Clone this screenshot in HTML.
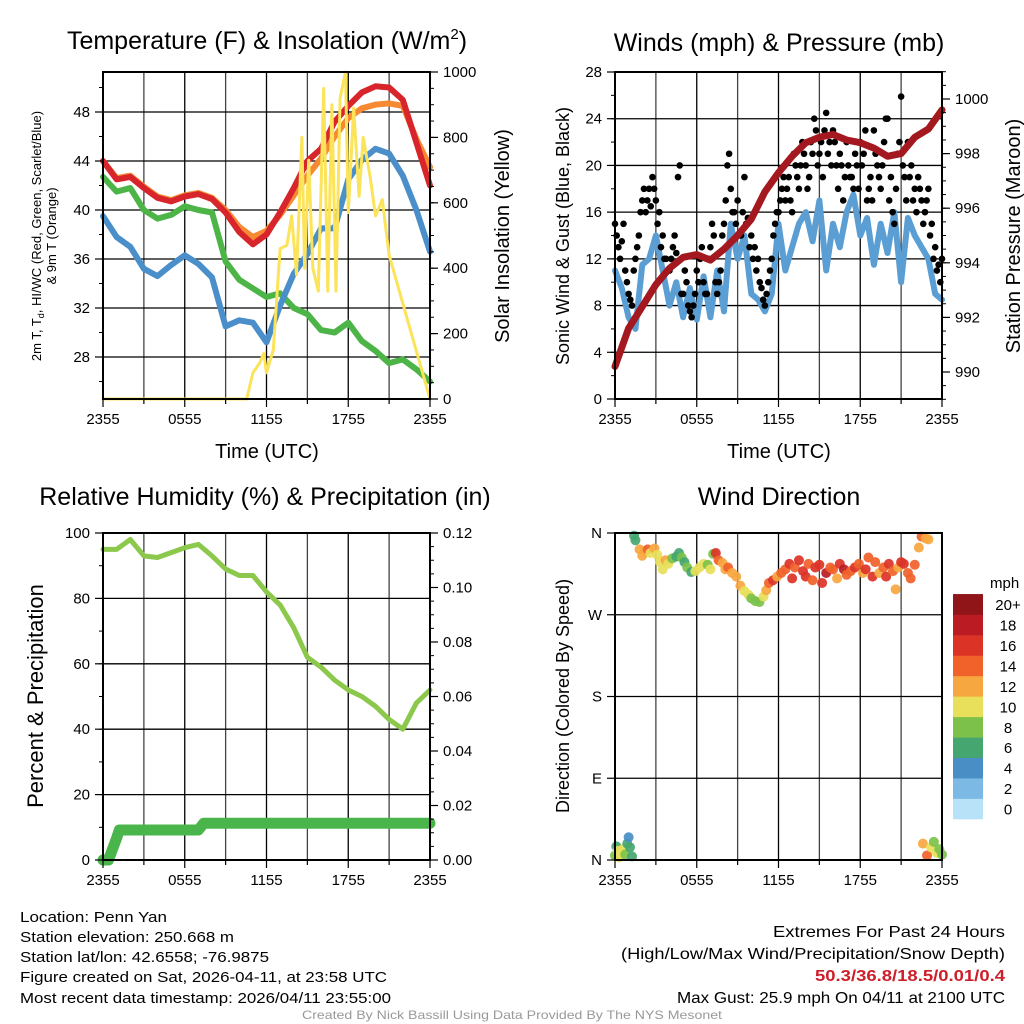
<!DOCTYPE html>
<html><head><meta charset="utf-8"><style>
html,body{margin:0;padding:0;background:#fff;}
svg{display:block;font-family:"Liberation Sans",sans-serif;}
</style></head><body>
<svg id="chart" width="1024" height="1024" viewBox="0 0 1024 1024" xmlns="http://www.w3.org/2000/svg">
<rect width="1024" height="1024" fill="#fff"/>
<g id="layer-grid"></g><g id="layer-data"></g><g id="layer-axes"></g>
<text x="267" y="49" font-size="25" text-anchor="middle">Temperature (F) &amp; Insolation (W/m<tspan font-size="15" dy="-10">2</tspan><tspan dy="10">)</tspan></text>
<text x="779" y="51" font-size="25" text-anchor="middle">Winds (mph) &amp; Pressure (mb)</text>
<text x="265" y="505" font-size="25" text-anchor="middle">Relative Humidity (%) &amp; Precipitation (in)</text>
<text x="779" y="505" font-size="25" text-anchor="middle">Wind Direction</text>
<text x="267" y="458" font-size="20" text-anchor="middle">Time (UTC)</text>
<text x="779" y="458" font-size="20" text-anchor="middle">Time (UTC)</text>
<text transform="translate(41,236) rotate(-90)" font-size="13" text-anchor="middle">2m T, T<tspan font-size="9" dy="3">d</tspan><tspan dy="-3">, HI/WC (Red, Green, Scarlet/Blue)</tspan></text>
<text transform="translate(56,236) rotate(-90)" font-size="13" text-anchor="middle">&amp; 9m T (Orange)</text>
<text transform="translate(509,236) rotate(-90)" font-size="20" text-anchor="middle">Solar Insolation (Yellow)</text>
<text transform="translate(569,236) rotate(-90)" font-size="18" text-anchor="middle">Sonic Wind &amp; Gust (Blue, Black)</text>
<text transform="translate(1020,236) rotate(-90)" font-size="20" text-anchor="middle">Station Pressure (Maroon)</text>
<text transform="translate(43,696) rotate(-90)" font-size="22" text-anchor="middle">Percent &amp; Precipitation</text>
<text transform="translate(569,696) rotate(-90)" font-size="18" text-anchor="middle">Direction (Colored By Speed)</text>
<text x="990" y="588" font-size="15">mph</text>
<g font-size="15">
<text x="20" y="922" textLength="147" lengthAdjust="spacingAndGlyphs">Location: Penn Yan</text>
<text x="20" y="942" textLength="214" lengthAdjust="spacingAndGlyphs">Station elevation: 250.668 m</text>
<text x="20" y="962" textLength="249" lengthAdjust="spacingAndGlyphs">Station lat/lon: 42.6558; -76.9875</text>
<text x="20" y="982" textLength="367" lengthAdjust="spacingAndGlyphs">Figure created on Sat, 2026-04-11, at 23:58 UTC</text>
<text x="20" y="1003" textLength="371" lengthAdjust="spacingAndGlyphs">Most recent data timestamp: 2026/04/11 23:55:00</text>
</g>
<g font-size="16" text-anchor="end">
<text x="1005" y="937" textLength="232" lengthAdjust="spacingAndGlyphs">Extremes For Past 24 Hours</text>
<text x="1005" y="959" textLength="384" lengthAdjust="spacingAndGlyphs">(High/Low/Max Wind/Precipitation/Snow Depth)</text>
<text x="1005" y="981" fill="#cc1f2a" font-weight="bold" textLength="190" lengthAdjust="spacingAndGlyphs">50.3/36.8/18.5/0.01/0.4</text>
<text x="1005" y="1003" textLength="328" lengthAdjust="spacingAndGlyphs">Max Gust: 25.9 mph On 04/11 at 2100 UTC</text>
</g>
<text x="512" y="1019" font-size="12" fill="#999" text-anchor="middle" textLength="420" lengthAdjust="spacingAndGlyphs">Created By Nick Bassill Using Data Provided By The NYS Mesonet</text>
</svg>
<script>
// ---------- data ----------
const hourTimes=[0,1,2,3,4,5,6,7,8,9,10,11,12,13,14,15,16,17,18,19,20,21,22,23,24];
const tempValues=[44,42.5,42.7,41.8,41,40.7,41.1,41.3,40.9,39.8,38.2,37.2,38.0,39.8,41.8,44.0,45.0,47.2,48.5,49.6,50.1,50.0,49.0,45.5,42.0];
const temp9mValues=[44,42.6,42.8,41.9,41.1,40.8,41.2,41.4,41.0,40.0,38.6,37.8,38.3,39.6,41.2,42.8,44.2,46.0,47.5,48.3,48.6,48.7,48.5,45.8,43.5];
const dewpointValues=[42.7,41.5,41.8,40,39.3,39.6,40.3,40.0,39.8,35.8,34.3,33.6,32.9,33.2,32.0,31.5,30.2,30.0,30.8,29.3,28.5,27.5,27.8,27.0,26.0];
const windChillValues=[39.5,37.8,37,35.2,34.6,35.5,36.3,35.6,34.5,30.5,31,30.8,29.2,32.2,34.8,36.4,38.5,38.5,42.5,44.1,45,44.6,42.8,40,36.6];
const solarTimes=[0,10.55,11.0,11.5,11.8,12.0,12.5,13.0,13.5,13.85,14.2,14.6,14.8,15.1,15.4,15.8,16.2,16.5,16.8,17.1,17.4,17.8,18.0,18.4,18.8,19.1,19.6,20.0,20.5,21.0,24];
const solarValues=[0,0,80,110,140,80,150,460,470,560,380,800,400,730,400,330,950,330,900,330,920,1000,570,890,620,800,680,560,610,440,0];
const pressureValues=[990.2,991.6,992.4,993.2,993.8,994.2,994.3,994.1,994.5,995.0,995.6,996.6,997.3,997.9,998.4,998.6,998.7,998.5,998.4,998.2,997.9,998.0,998.6,998.9,999.6];
const windTimes=[0,0.5,1,1.5,2,2.5,3,3.5,4,4.5,5,5.5,6,6.5,7,7.5,8,8.5,9,9.5,10,10.5,11,11.5,12,12.5,13,13.5,14,14.5,15,15.5,16,16.5,17,17.5,18,18.5,19,19.5,20,20.5,21,21.5,22,22.5,23,23.5,24];
const windValues=[11,9.5,7,6,11.5,12,14,11,8,10,7,9.5,6.8,10.5,7,11,7.5,15,12,14,9,8.5,7.5,9,15,11,13,15,16,13.5,17,11,15,13,16,17.5,14,15.5,11.5,15,12.5,16,10,15.5,14,13,12,9,8.5];
const gustValues=[15,13,13.5,11,9,8,12,14,17,16,18,19,17,16,14,12,11,13,12.5,20,9,10,7.5,8,11,12,10,9,13,14,9,11,15,20,18,16,17,14,19,15.5,14,13,12,9.5,8,10,12,15,16,18,17,19,16,20,18,22,20,19,21,23,21,19,24.5,22,23,20,21,17,22,19,18,20,22,21,17,19,23,20,18,22,24,19,15,21,25.9,19,22,20,18,19,17,16,18,15,13,11.5,12];
const gustValues2=[14,12,15,10,8.5,11,13,16,18,17,16.5,18,15,13,12,11,12,14,19,9,11,8,7,9,10,13,9,12,15,10,10,14,17,21,16,15,14,16,15,13,12,11,10,8.5,9,11,14,16,17,19,18,17,21,19,20,21,18,22,24,20,22,23,21,20,22,18,20,19,20,19,21,18,20,23,18,17,21,19,20,24,17,16,18,22,20,17,19,17,16,18,15,17,14,12,11,10];
const rhValues=[95,95,98,93,92.5,94,95.5,96.5,93,89,87,87,82,78,71,62,59,55,52,50,47,43,40,48,52];
const precipTimes=[0,0.4,0.7,1.0,1.2,7.0,7.4,24];
const precipValues=[0,0,0.004,0.008,0.011,0.011,0.0135,0.0135];
const dirTimes=[0,0.1,0.2,0.3,0.45,0.6,0.75,0.9,1.0,1.1,1.25,1.4,1.5,1.8,2.0,2.2,2.4,2.6,2.9,3.1,3.3,3.5,3.7,3.9,4.2,4.5,4.7,4.9,5.1,5.3,5.6,5.9,6.2,6.5,6.8,7.0,7.2,7.4,7.6,7.9,8.1,8.3,8.6,8.9,9.2,9.5,9.8,10.0,10.3,10.6,10.9,11.1,11.3,11.6,11.9,12.2,12.5,12.8,13.0,13.2,13.5,13.8,14.0,14.2,14.5,14.7,15.0,15.2,15.5,15.8,16.0,16.3,16.5,16.8,17.0,17.3,17.6,17.9,18.2,18.4,18.6,18.9,19.1,19.4,19.7,19.9,20.1,20.4,20.6,20.8,21.0,21.2,21.5,21.7,22.0,22.3,22.5,22.8,23.0,22.6,22.9,23.2,23.4,23.6,23.8,24];
const dirValues=[5,15,10,3,8,12,6,18,25,14,4,357,352,342,335,340,342,338,343,336,328,320,330,326,332,334,338,333,328,322,317,318,322,326,325,320,337,338,330,327,320,322,316,312,302,296,292,288,285,284,290,297,305,308,312,316,320,326,310,322,330,318,312,326,308,322,325,305,316,322,320,310,326,320,314,318,322,326,316,320,333,312,328,316,322,312,326,318,298,322,328,326,316,310,325,344,356,354,353,18,5,14,20,8,12,6];
const dirSpeeds=[9,6,10,10,10,10,9,6,4,6,6,6,7,12,12,13,14,11,12,10,10,11,12,10,9,7,6,8,7,8,6,10,10,10,8,10,8,16,15,13,12,14,13,12,12,10,10,8,8,8,10,12,15,16,13,14,15,16,17,15,17,16,16,15,14,17,16,16,18,15,14,13,17,18,15,14,17,15,13,16,14,16,15,12,14,16,17,14,13,12,16,17,14,15,14,12,14,13,12,12,14,10,8,10,8,8];
const speedColors=["#b8e2f8","#7cb9e4","#4a8ec6","#45a66f","#7cc24a","#e8e05a","#f7a740","#f0622a","#dc3327","#bb1c24","#8f1518"];
const speedLabels=["0","2","4","6","8","10","12","14","16","18","20+"];

// ---------- helpers ----------
const NS="http://www.w3.org/2000/svg";
const gGrid=document.getElementById('layer-grid'),gData=document.getElementById('layer-data'),gAxes=document.getElementById('layer-axes');
function mk(tag,parent,attrs){const e=document.createElementNS(NS,tag);for(const k in attrs)e.setAttribute(k,attrs[k]);parent.appendChild(e);return e;}
function lin(d0,d1,r0,r1){return v=>r0+(v-d0)/(d1-d0)*(r1-r0);}
const L1=103,R1=430,L2=615,R2=942,T1=72,B1=399,T2=533,B2=860;
const xA=lin(0,24,L1,R1), xB=lin(0,24,L2,R2);
const yTemp=lin(40,48,210,112), ySolar=lin(0,1000,399,72);
const yWind=lin(0,28,399,72), yPres=lin(990,1000,372,99);
const yRH=lin(0,100,860,533), yPrecip=lin(0,0.12,860,533);
const yDir=lin(0,360,860,533);
const xTickLabels=["2355","0555","1155","1755","2355"];

function frame(L,R,T,B,name){
  for(let h=3;h<24;h+=3){const x=L+(R-L)*h/24;
    const ln=mk('line',gGrid,{x1:x,x2:x,y1:T,y2:B,stroke:h%6==0?'#000':'#444','stroke-width':1.3});
    
    }
  const r=mk('rect',gAxes,{x:L,y:T,width:R-L,height:B-T,fill:'none',stroke:'#000','stroke-width':2});
  
  
  for(let h=0;h<=24;h+=3){const x=L+(R-L)*h/24;
    mk('line',gAxes,{x1:x,x2:x,y1:B,y2:B+(h%6==0?8:5),stroke:'#000','stroke-width':1.2});}
  xTickLabels.forEach((lb,i)=>{const t=mk('text',gAxes,{x:L+(R-L)*i/4,y:B+25,'font-size':15,'text-anchor':'middle'});t.textContent=lb;
    
    });
}
function yAxis(L,R,side,scale,vals,minors,fmt,name,grid){
  const x=side=='l'?L:R, d=side=='l'?-1:1;
  minors.forEach(v=>mk('line',gAxes,{x1:x,x2:x+d*4,y1:scale(v),y2:scale(v),stroke:'#000','stroke-width':1}));
  vals.forEach(v=>{const y=scale(v);
    mk('line',gAxes,{x1:x,x2:x+d*8,y1:y,y2:y,stroke:'#000','stroke-width':1.2});
    if(grid){const g=mk('line',gGrid,{x1:L,x2:R,y1:y,y2:y,stroke:'#000','stroke-width':1.3});
      
      }
    const t=mk('text',gAxes,{x:x+d*13,y:y+5,'font-size':15,'text-anchor':side=='l'?'end':'start'});t.textContent=fmt(v);
    
    });
}
function rng(a,b,s){const o=[];for(let v=a;v<=b+1e-9;v+=s)o.push(+v.toFixed(4));return o;}
function line(xs,ys,xf,yf,color,w,name){
  const d=xs.map((t,i)=>(i?'L':'M')+xf(t).toFixed(1)+' '+yf(ys[i]).toFixed(1)).join('');
  const p=mk('path',gData,{d:d,fill:'none',stroke:color,'stroke-width':w,'stroke-linejoin':'round','stroke-linecap':'round'});
  
  
}

// ---------- panel 1 ----------
frame(L1,R1,T1,B1,'temp');
yAxis(L1,R1,'l',yTemp,[28,32,36,40,44,48],rng(26,50,2),v=>v,'temp-y',true);
yAxis(L1,R1,'r',ySolar,rng(0,1000,200),rng(0,1000,50),v=>v,'solar-y',false);
line(hourTimes,dewpointValues,xA,yTemp,'#4db548',6,'dewpoint-line');
line(hourTimes,windChillValues,xA,yTemp,'#4a8fc9',6,'windchill-line');
line(hourTimes,temp9mValues,xA,yTemp,'#f58a33',6,'temp-9m-line');
line(hourTimes,tempValues,xA,yTemp,'#d7252b',6,'temp-2m-line');
line(solarTimes,solarValues,xA,ySolar,'#fbe35a',3,'solar-line');

// ---------- panel 2 ----------
frame(L2,R2,T1,B1,'wind');
yAxis(L2,R2,'l',yWind,rng(0,28,4),rng(0,28,2),v=>v,'wind-y',true);
yAxis(L2,R2,'r',yPres,rng(990,1000,2),rng(989,1001,0.5),v=>v,'pressure-y',false);
line(windTimes,windValues,xB,yWind,'#5a9ed4',6,'sonic-wind-line');
gustValues.forEach((v,i)=>{const c=mk('circle',gData,{cx:xB(i*0.25),cy:yWind(v),r:3.3,fill:'#000'});
  
  });
gustValues2.forEach((v,i)=>{const c=mk('circle',gData,{cx:xB(0.125+i*0.25),cy:yWind(v),r:3.3,fill:'#000'});
  
  });
line(hourTimes,pressureValues,xB,yPres,'#a3191f',7,'pressure-line');

// ---------- panel 3 ----------
frame(L1,R1,T2,B2,'humidity');
yAxis(L1,R1,'l',yRH,rng(0,100,20),rng(0,100,10),v=>v,'rh-y',true);
yAxis(L1,R1,'r',yPrecip,rng(0,0.12,0.02),rng(0,0.12,0.005),v=>v.toFixed(2),'precip-y',false);
line(hourTimes,rhValues,xA,yRH,'#8cc84b',5,'rh-line');
line(precipTimes,precipValues,xA,yPrecip,'#4ab54a',11,'precip-line');

// ---------- panel 4 ----------
frame(L2,R2,T2,B2,'direction');
yAxis(L2,R2,'l',yDir,[0,90,180,270,360],[],v=>({0:'N',90:'E',180:'S',270:'W',360:'N'})[v],'dir-y',true);
dirTimes.forEach((t,i)=>{const k=Math.min(10,Math.floor(dirSpeeds[i]/2));
  const c=mk('circle',gData,{cx:xB(t),cy:yDir(dirValues[i]),r:5,fill:speedColors[k],'fill-opacity':0.92});
  
  });
speedColors.forEach((c,i)=>{const y=819-(i+1)*20.45;
  const r=mk('rect',gAxes,{x:953,y:y,width:30,height:20.8,fill:c});
  
  
  const t=mk('text',gAxes,{x:1008,y:y+16,'font-size':15,'text-anchor':'middle'});t.textContent=speedLabels[i];
  
  });
</script>
</body></html>
